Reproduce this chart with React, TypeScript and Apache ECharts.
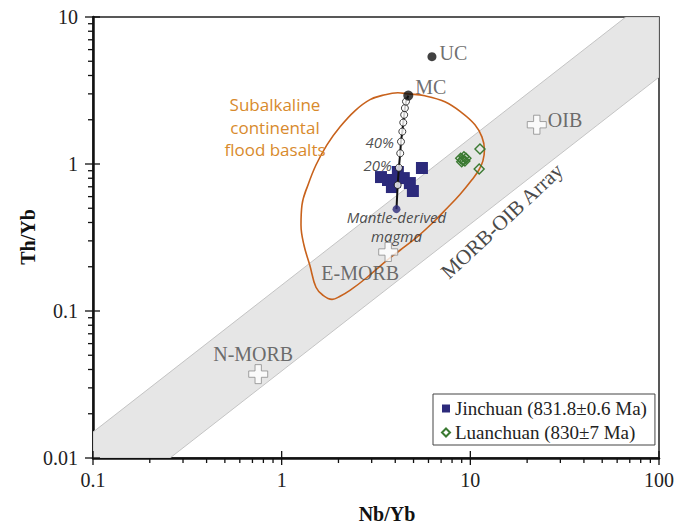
import React, { useEffect, useRef } from "react";
import * as echarts from "echarts";

// ---- data (Nb/Yb, Th/Yb) ----
const jinchuan = [
  [3.36, 0.815], [3.66, 0.778], [3.84, 0.697], [4.13, 0.882], [4.44, 0.802],
  [4.78, 0.742], [4.96, 0.655], [5.54, 0.939], [3.98, 0.754],
];
const luanchuan = [
  [11.25, 1.266], [11.14, 0.925], [8.89, 1.094], [9.10, 1.065], [9.25, 1.121],
  [9.36, 1.048], [9.48, 1.094], [9.0, 1.037],
];
const mantleMagma = [4.06, 0.493];
const mcPoint = [4.69, 2.92];
const ucPoint = [6.26, 5.37];
const mixingSteps = [
  [4.12, 0.719], [4.18, 0.943], [4.25, 1.183], [4.29, 1.419], [4.36, 1.662],
  [4.41, 1.914], [4.46, 2.16], [4.50, 2.40], [4.56, 2.66],
];
const mixingLabels = ["", "20%", "", "40%", "", "", "", "", ""];
const refCrosses = [
  { name: "OIB", value: [22.5, 1.85] },
  { name: "E-MORB", value: [3.67, 0.252] },
  { name: "N-MORB", value: [0.751, 0.0372] },
];
const floodBasaltField = [
  [1.266, 0.384], [1.281, 0.525], [1.379, 0.719], [1.52, 0.984], [1.738, 1.35],
  [2.04, 1.79], [2.445, 2.30], [2.94, 2.74], [3.53, 2.96], [4.13, 3.05],
  [4.67, 3.00], [5.74, 2.91], [7.33, 2.65], [9.03, 2.23], [10.58, 1.85],
  [11.52, 1.53], [11.88, 1.25], [11.66, 1.05], [11.10, 0.91], [10.20, 0.78],
  [8.81, 0.62], [7.52, 0.50], [6.34, 0.40], [5.21, 0.318], [4.24, 0.259],
  [3.61, 0.221], [2.83, 0.169], [2.30, 0.138], [2.04, 0.126], [1.85, 0.120],
  [1.655, 0.128], [1.52, 0.145], [1.41, 0.205], [1.313, 0.28], [1.266, 0.384],
  [1.281, 0.525], [1.379, 0.719],
];
const morbOibArray = [
  [0.1, 0.015], [66.7, 10], [100, 10], [100, 3.9], [0.256, 0.01], [0.1, 0.01],
];
const xTicksMajor = [0.1, 1, 10, 100];
const xTicksMinor = [
  0.2, 0.3, 0.4, 0.5, 0.6, 0.7, 0.8, 0.9, 2, 3, 4, 5, 6, 7, 8, 9,
  20, 30, 40, 50, 60, 70, 80, 90,
];
const yTicksMajor = [0.01, 0.1, 1, 10];
const yTicksMinor = [
  0.02, 0.03, 0.04, 0.05, 0.06, 0.07, 0.08, 0.09, 0.2, 0.3, 0.4, 0.5, 0.6,
  0.7, 0.8, 0.9, 2, 3, 4, 5, 6, 7, 8, 9,
];

const SERIF = "Liberation Serif";
const SANS = "Open Sans";
const NAVY = "#2c2a7b";
const GREEN = "#3b7a32";
const ORANGE_LINE = "#c8621c";
const ORANGE_TEXT = "#d88a2c";
const LABEL_GREY = "#4a4a4a";

const crossPath = "path://M6,0H12V6H18V12H12V18H6V12H0V6H6Z";

export default function App() {
  const ref = useRef<HTMLDivElement>(null);
  useEffect(() => {
    document.body.style.margin = "0";
    const chart = echarts.init(ref.current!, null, { renderer: "svg" });

    const xTickData = [
      ...xTicksMajor.map((v) => [v, 0.01, 1]),
      ...xTicksMinor.map((v) => [v, 0.01, 0]),
    ];
    const yTickData = [
      ...yTicksMajor.map((v) => [0.1, v, 1]),
      ...yTicksMinor.map((v) => [0.1, v, 0]),
    ];

    const serifLabel = {
      show: true,
      fontFamily: SERIF,
      fontSize: 20,
      color: LABEL_GREY,
    };

    const option: any = {
      animation: false,
      backgroundColor: "#fff",
      grid: {
        left: 93,
        top: 17,
        right: 29,
        bottom: 68,
        show: true,
        borderColor: "#222",
        borderWidth: 1.5,
        backgroundColor: "transparent",
      },
      xAxis: {
        type: "log",
        logBase: 10,
        min: 0.1,
        max: 100,
        axisLine: { show: true, lineStyle: { color: "#111", width: 2.5 } },
        axisTick: { show: false },
        splitLine: { show: false },
        minorTick: { show: false },
        axisLabel: {
          fontFamily: SERIF,
          fontSize: 20,
          color: "#222",
          margin: 12,
        },
      },
      yAxis: {
        type: "log",
        logBase: 10,
        min: 0.01,
        max: 10,
        axisLine: { show: true, lineStyle: { color: "#111", width: 2.5 } },
        axisTick: { show: false },
        splitLine: { show: false },
        minorTick: { show: false },
        axisLabel: {
          fontFamily: SERIF,
          fontSize: 20,
          color: "#222",
          margin: 15,
        },
      },
      legend: {
        orient: "vertical",
        left: 433,
        top: 394,
        padding: [5, 8, 3, 8],
        itemGap: 5,
        itemWidth: 8,
        itemHeight: 8,
        backgroundColor: "#fff",
        borderColor: "#444",
        borderWidth: 1,
        borderRadius: 0,
        selectedMode: false,
        textStyle: { fontFamily: SERIF, fontSize: 19, color: "#222" },
        data: [
          { name: "Jinchuan (831.8±0.6 Ma)", icon: "rect" },
          { name: "Luanchuan (830±7 Ma)", icon: "diamond" },
        ],
      },
      graphic: [
        {
          type: "text",
          x: 275,
          y: 127,
          z: 50,
          style: {
            text: "Subalkaline\ncontinental\nflood basalts",
            fill: ORANGE_TEXT,
            fontFamily: SANS,
            fontSize: 17,
            lineHeight: 22.5,
            align: "center",
            verticalAlign: "middle",
            textAlign: "center",
            textVerticalAlign: "middle",
          },
        },
        {
          type: "text",
          x: 502,
          y: 221,
          rotation: (43 * Math.PI) / 180,
          z: 50,
          style: {
            text: "MORB-OIB Array",
            fill: LABEL_GREY,
            fontFamily: SERIF,
            fontSize: 21,
            align: "center",
            verticalAlign: "middle",
            textAlign: "center",
            textVerticalAlign: "middle",
          },
        },
        {
          type: "text",
          x: 28,
          y: 237,
          rotation: Math.PI / 2,
          z: 50,
          style: {
            text: "Th/Yb",
            fill: "#111",
            fontFamily: SERIF,
            fontWeight: "bold",
            fontSize: 20,
            align: "center",
            verticalAlign: "middle",
            textAlign: "center",
            textVerticalAlign: "middle",
          },
        },
        {
          type: "text",
          x: 387,
          y: 514,
          z: 50,
          style: {
            text: "Nb/Yb",
            fill: "#111",
            fontFamily: SERIF,
            fontWeight: "bold",
            fontSize: 20,
            align: "center",
            verticalAlign: "middle",
            textAlign: "center",
            textVerticalAlign: "middle",
          },
        },
      ],
      series: [
        {
          type: "custom",
          name: "band",
          silent: true,
          z: 1,
          clip: true,
          data: morbOibArray,
          renderItem: (params: any, api: any) => {
            if (params.dataIndex !== 0) return { type: "group", children: [] };
            return {
              type: "polygon",
              shape: { points: morbOibArray.map((p) => api.coord(p)) },
              style: { fill: "#e6e6e6", stroke: "#c4c4c4", lineWidth: 1 },
            };
          },
        },
        {
          type: "custom",
          name: "xticks",
          silent: true,
          clip: false,
          z: 10,
          data: xTickData,
          renderItem: (params: any, api: any) => {
            const p = api.coord([api.value(0), api.value(1)]);
            const major = api.value(2) === 1;
            return {
              type: "line",
              shape: {
                x1: p[0],
                y1: p[1] - (major ? 7 : 0),
                x2: p[0],
                y2: p[1] + (major ? 7 : 5),
              },
              style: { stroke: "#111", lineWidth: 1.3 },
            };
          },
        },
        {
          type: "custom",
          name: "yticks",
          silent: true,
          clip: false,
          z: 10,
          data: yTickData,
          renderItem: (params: any, api: any) => {
            const p = api.coord([api.value(0), api.value(1)]);
            const major = api.value(2) === 1;
            return {
              type: "line",
              shape: {
                x1: p[0] - (major ? 8 : 5),
                y1: p[1],
                x2: p[0] + (major ? 7 : 0),
                y2: p[1],
              },
              style: { stroke: "#111", lineWidth: 1.3 },
            };
          },
        },
        {
          type: "line",
          name: "field",
          data: floodBasaltField,
          smooth: 0.4,
          symbol: "none",
          silent: true,
          z: 3,
          lineStyle: { color: ORANGE_LINE, width: 1.6 },
        },
        {
          type: "scatter",
          name: "Jinchuan (831.8±0.6 Ma)",
          data: jinchuan,
          symbol: "rect",
          symbolSize: 12,
          z: 4,
          itemStyle: { color: NAVY, opacity: 1 },
        },
        {
          type: "scatter",
          name: "Luanchuan (830±7 Ma)",
          data: luanchuan,
          symbol: "diamond",
          symbolSize: 10,
          z: 4,
          itemStyle: {
            color: "rgba(255,255,255,0)",
            borderColor: GREEN,
            borderWidth: 1.4,
            opacity: 1,
          },
        },
        {
          type: "line",
          name: "mixing",
          data: [mantleMagma, ...mixingSteps, mcPoint],
          symbol: "none",
          silent: true,
          z: 5,
          lineStyle: { color: "#111", width: 2 },
        },
        {
          type: "scatter",
          name: "steps",
          data: mixingSteps.map((v, i) => ({
            value: v,
            label: {
              show: mixingLabels[i] !== "",
              formatter: mixingLabels[i],
              position: "left",
              distance: 3,
              offset: i === 1 ? [0, -3] : [0, 0],
              fontFamily: SANS,
              fontStyle: "italic",
              fontSize: 15,
              color: "#222",
            },
          })),
          symbol: "circle",
          symbolSize: 7,
          z: 6,
          itemStyle: { color: "#fff", borderColor: "#111", borderWidth: 1 },
        },
        {
          type: "scatter",
          name: "mantle",
          data: [
            {
              value: mantleMagma,
              label: {
                show: true,
                formatter: "Mantle-derived\nmagma",
                position: "bottom",
                distance: 0,
                offset: [0, -6],
                fontFamily: SANS,
                fontStyle: "italic",
                fontSize: 15,
                lineHeight: 19,
                color: "#222",
              },
            },
          ],
          symbol: "circle",
          symbolSize: 8,
          z: 7,
          itemStyle: { color: NAVY },
        },
        {
          type: "scatter",
          name: "crust",
          data: [
            {
              value: ucPoint,
              symbolSize: 9,
              label: { ...serifLabel, formatter: "UC", position: "right", distance: 3, offset: [0, -4] },
            },
            {
              value: mcPoint,
              symbolSize: 10,
              label: { ...serifLabel, formatter: "MC", position: "right", distance: 2, offset: [0, -9] },
            },
          ],
          symbol: "circle",
          z: 7,
          itemStyle: { color: "#111" },
        },
        {
          type: "scatter",
          name: "reference",
          data: refCrosses.map((c) => ({
            value: c.value,
            label:
              c.name === "OIB"
                ? { ...serifLabel, formatter: c.name, position: "right", distance: 1, offset: [0, -5] }
                : c.name === "E-MORB"
                ? { ...serifLabel, formatter: c.name, position: "bottom", distance: 1, offset: [-28, 0] }
                : { ...serifLabel, formatter: c.name, position: "top", distance: 0, offset: [-5, 0] },
          })),
          symbol: crossPath,
          symbolSize: 19,
          z: 8,
          itemStyle: { color: "#fff", borderColor: "#8c8c8c", borderWidth: 1 },
        },
      ],
    };
    chart.setOption(option);
    return () => chart.dispose();
  }, []);
  return <div ref={ref} style={{ width: 688, height: 526 }} />;
}
